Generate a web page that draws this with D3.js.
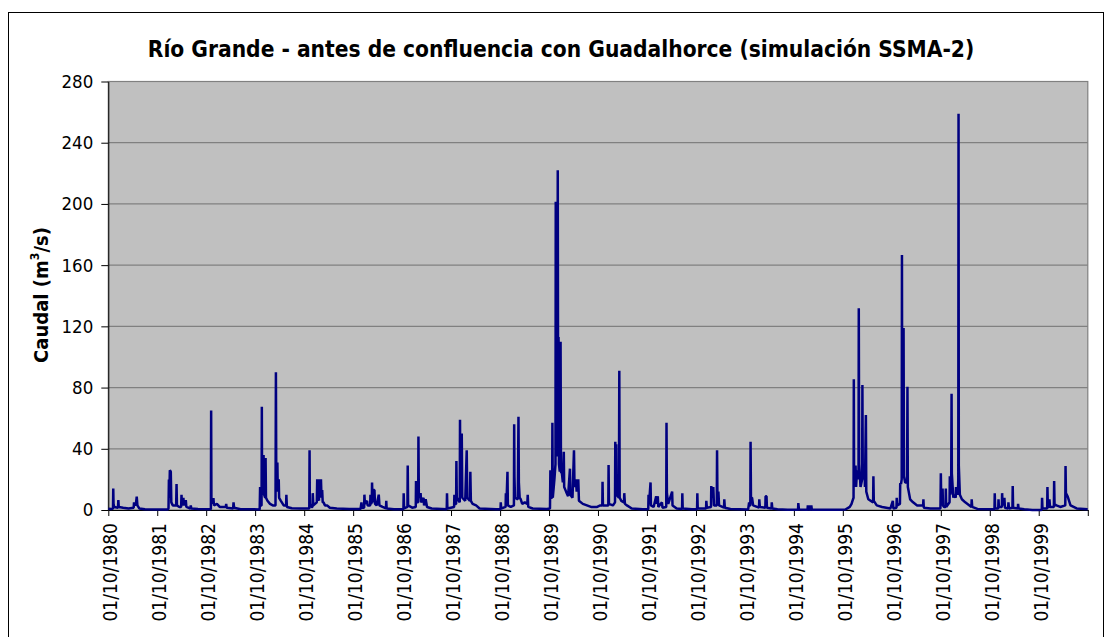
<!DOCTYPE html>
<html><head><meta charset="utf-8">
<script src="https://cdn.jsdelivr.net/npm/d3@7"></script>
<style>body{margin:0;background:#fff}svg{display:block}</style>
</head><body>
<svg id="c" width="1108" height="637"></svg>
<script>
const chartTitle = "Río Grande - antes de confluencia con Guadalhorce (simulación SSMA-2)";
const yTitleMain = "Caudal (m";
const yTitleSup = "3";
const yTitleEnd = "/s)";
const yTicks = [0, 40, 80, 120, 160, 200, 240, 280];
const tickYears = d3.range(1980, 2001);
const labelYears = d3.range(1980, 2000);

// daily flow (m3/s): [date, value]
const flowPoints = [
["1980-10-01",0.8],["1980-10-20",0.6],["1980-11-05",1],["1980-11-07",14],["1980-11-09",4],["1980-11-14",2],["1980-12-12",1.5],["1980-12-15",6.5],["1980-12-18",2],["1981-01-20",1.5],["1981-03-01",1],["1981-04-08",1.5],["1981-04-11",5],["1981-04-18",3],["1981-04-25",4],["1981-05-01",8.7],["1981-05-06",3],["1981-05-20",1],["1981-07-01",0.5],["1981-09-30",0.3],
["1981-12-20",0.4],["1981-12-24",1],["1981-12-27",20],["1981-12-30",8],["1982-01-03",26],["1982-01-10",25],["1982-01-14",5],["1982-01-25",3],["1982-02-19",3],["1982-02-22",17],["1982-02-25",3],["1982-03-15",2],["1982-03-28",2],["1982-03-31",10],["1982-04-03",3],["1982-04-14",8],["1982-04-18",3],["1982-05-02",6.5],["1982-05-06",2],["1982-06-05",1],["1982-06-08",3],["1982-06-12",1],["1982-08-01",0.7],["1982-11-05",0.5],
["1982-11-07",65],["1982-11-09",8],["1982-11-17",4],["1982-11-24",7.8],["1982-11-28",3],["1982-12-20",4],["1983-01-10",2],["1983-02-25",2],["1983-02-27",4],["1983-03-03",1.5],["1983-04-20",1],["1983-04-23",5],["1983-04-27",1.5],["1983-06-15",0.5],["1983-11-04",0.4],
["1983-11-07",15],["1983-11-10",3],["1983-11-18",3],["1983-11-20",67.5],["1983-11-22",10],["1983-11-30",12],["1983-12-03",36],["1983-12-07",10],["1983-12-15",8],["1983-12-18",34],["1983-12-21",8],["1984-01-01",6],["1984-01-20",4],["1984-02-10",3],["1984-03-01",3],["1984-03-04",90],["1984-03-07",15],["1984-03-15",31],["1984-03-18",12],["1984-03-25",20],["1984-03-28",8],["1984-04-10",6],["1984-05-01",3],["1984-05-19",3],["1984-05-21",10],["1984-05-25",2],["1984-07-01",1.2],["1984-09-01",1],["1984-11-08",1],
["1984-11-10",39],["1984-11-12",4],["1984-11-25",2],["1984-12-02",2],["1984-12-04",11],["1984-12-08",3],["1985-01-03",5],["1985-01-06",20],["1985-01-10",6],["1985-01-16",12],["1985-01-19",6],["1985-01-23",20],["1985-01-27",8],["1985-02-03",20],["1985-02-07",8],["1985-02-12",13],["1985-02-16",5],["1985-02-22",5],["1985-03-05",3],["1985-03-21",3],["1985-04-10",1.5],["1985-06-01",1],["1985-09-01",0.7],["1985-11-25",0.6],
["1985-12-02",5],["1985-12-06",1.5],["1985-12-22",1.5],["1985-12-24",10],["1985-12-28",4],["1986-01-13",6],["1986-01-17",3],["1986-02-05",3],["1986-02-07",10],["1986-02-11",4],["1986-02-17",5],["1986-02-19",18],["1986-02-23",5],["1986-03-01",13],["1986-03-09",13],["1986-03-13",4],["1986-03-25",3],["1986-04-10",10],["1986-04-15",3],["1986-05-08",2],["1986-06-03",1],["1986-06-05",6],["1986-06-08",1],["1986-08-01",0.5],["1986-10-11",0.5],
["1986-10-13",11],["1986-10-16",1],["1986-11-10",2],["1986-11-12",29],["1986-11-15",3],["1986-12-15",1.5],["1987-01-11",2],["1987-01-13",19],["1987-01-16",5],["1987-01-29",5],["1987-01-31",48],["1987-02-03",8],["1987-02-16",11],["1987-02-20",5],["1987-03-10",8],["1987-03-14",3],["1987-03-26",7],["1987-04-05",2],["1987-05-10",1],["1987-08-30",0.5],
["1987-09-01",11],["1987-09-04",1],["1987-10-24",2],["1987-10-26",10],["1987-10-30",4],["1987-11-08",4],["1987-11-10",32],["1987-11-13",8],["1987-12-05",5],["1987-12-07",59],["1987-12-10",10],["1987-12-17",10],["1987-12-20",50],["1987-12-24",8],["1988-01-15",6],["1988-01-26",39],["1988-01-30",8],["1988-02-19",6],["1988-02-22",25],["1988-02-26",6],["1988-03-10",4],["1988-04-05",3],["1988-05-01",1],["1988-09-01",0.5],
["1988-10-04",0.5],["1988-10-06",5],["1988-10-09",1],["1988-11-11",2],["1988-11-13",11],["1988-11-17",3],["1988-11-25",25],["1988-11-28",3],["1988-12-20",2],["1989-01-12",3],["1989-01-14",56],["1989-01-16",22],["1989-01-20",8],["1989-02-10",7],["1989-02-15",61],["1989-02-18",18],["1989-02-24",8],["1989-03-04",7],["1989-03-15",4],["1989-04-03",5],["1989-04-22",4],["1989-04-25",10],["1989-04-29",2],["1989-06-01",1],["1989-09-15",0.7],
["1989-10-08",1],["1989-10-11",26],["1989-10-16",8],["1989-10-24",8],["1989-10-26",57],["1989-10-29",8],["1989-11-10",20],["1989-11-18",30],["1989-11-20",201.5],["1989-11-23",40],["1989-11-27",60],["1989-12-02",35],["1989-12-05",222],["1989-12-08",40],["1989-12-11",113],["1989-12-14",30],["1989-12-20",25],["1989-12-26",110],["1989-12-29",25],["1990-01-05",24],["1990-01-12",18],["1990-01-19",38],["1990-01-22",15],["1990-02-05",12],["1990-02-20",9],["1990-03-06",27],["1990-03-09",10],["1990-03-25",8],["1990-04-05",39],["1990-04-09",15],["1990-04-20",20],["1990-04-25",12],["1990-05-07",20],["1990-05-12",6],["1990-06-10",4],["1990-08-10",2],["1990-09-25",2],
["1990-10-18",3],["1990-11-02",3],["1990-11-04",18.5],["1990-11-07",3],["1990-12-17",3],["1990-12-19",29.4],["1990-12-22",4],["1991-01-20",3],["1991-02-05",5],["1991-02-07",44.6],["1991-02-11",12],["1991-02-14",43],["1991-02-17",10],["1991-03-06",8],["1991-03-09",91],["1991-03-12",8],["1991-03-24",6],["1991-04-13",5],["1991-04-15",11],["1991-04-20",4],["1991-05-05",3],["1991-06-10",1],["1991-09-01",0.5],
["1991-10-11",0.5],["1991-10-13",10],["1991-10-17",4],["1991-10-28",18],["1991-10-31",3],["1991-11-20",2],["1991-12-09",9],["1991-12-13",4],["1991-12-21",9],["1991-12-25",2],["1992-01-21",5],["1992-01-25",1.5],["1992-02-22",2],["1992-02-24",57],["1992-02-27",11],["1992-03-08",4],["1992-04-06",12],["1992-04-09",3],["1992-05-10",1],["1992-06-19",0.7],["1992-06-21",11],["1992-06-24",1],["1992-09-01",0.5],
["1992-10-09",0.5],["1992-10-11",11],["1992-10-14",1],["1992-12-15",1],["1992-12-17",6],["1992-12-21",1.5],["1993-01-21",2],["1993-01-23",15.7],["1993-01-28",8],["1993-02-07",15],["1993-02-12",3],["1993-03-05",3],["1993-03-07",39],["1993-03-10",8],["1993-03-17",12],["1993-03-22",3],["1993-04-28",1.5],["1993-04-30",7],["1993-05-04",1.5],["1993-06-15",0.6],["1993-10-25",0.4],
["1993-11-01",5],["1993-11-05",3],["1993-11-10",3],["1993-11-12",44.6],["1993-11-15",8],["1993-11-23",8],["1993-12-01",3],["1994-01-14",1.5],["1994-01-16",7],["1994-01-20",2],["1994-03-02",1.5],["1994-03-04",9],["1994-03-11",9],["1994-03-14",1.5],["1994-04-17",1],["1994-04-19",5],["1994-04-23",1],["1994-06-01",0.5],["1994-08-15",0.1],
["1994-11-01",0.1],["1994-11-03",4.5],["1994-11-08",0.3],["1995-01-11",0.2],["1995-01-13",3],["1995-01-17",0.3],["1995-01-26",0.2],["1995-01-28",3],["1995-02-01",0.2],["1995-02-06",0.2],["1995-02-08",3],["1995-02-12",0.2],["1995-09-01",0.1],
["1995-10-20",0.3],["1995-11-22",2],["1995-12-05",4],["1995-12-12",6],["1995-12-20",8],["1995-12-22",85.4],["1995-12-24",20],["1996-01-04",29],["1996-01-08",15],["1996-01-15",26],["1996-01-26",20],["1996-01-28",131.8],["1996-01-31",30],["1996-02-10",15],["1996-02-22",20],["1996-02-24",81.7],["1996-02-27",20],["1996-03-10",30],["1996-03-14",15],["1996-03-21",62],["1996-03-24",12],["1996-04-08",7],["1996-05-14",5],["1996-05-16",22],["1996-05-19",6],["1996-06-10",3],["1996-07-20",2],["1996-09-20",1],
["1996-10-08",6],["1996-10-12",1],["1996-11-04",1.5],["1996-11-06",8],["1996-11-10",3],["1996-11-30",4],["1996-12-02",17.4],["1996-12-08",17],["1996-12-13",20],["1996-12-15",166.6],["1996-12-17",30],["1996-12-24",22],["1996-12-27",119],["1996-12-30",22],["1997-01-08",18],["1997-01-22",18],["1997-01-25",80.6],["1997-01-28",15],["1997-02-14",7],["1997-03-08",5],["1997-04-07",3],["1997-05-22",3],["1997-05-24",7],["1997-05-27",1.5],["1997-07-15",1],["1997-09-28",1],
["1997-10-01",24],["1997-10-04",5],["1997-10-14",14],["1997-10-17",3],["1997-10-25",2],["1997-11-05",2],["1997-11-07",14],["1997-11-10",2],["1997-12-05",5],["1997-12-07",22],["1997-12-11",10],["1997-12-17",15],["1997-12-20",76],["1997-12-22",24],["1998-01-02",8],["1998-01-09",10],["1998-01-20",8],["1998-01-22",15],["1998-02-05",10],["1998-02-08",20],["1998-02-10",259],["1998-02-12",29],["1998-02-20",10],["1998-03-07",7],["1998-04-01",5],["1998-05-17",2],["1998-05-19",7],["1998-05-23",2],["1998-07-01",0.7],["1998-11-05",0.5],
["1998-11-07",11],["1998-11-10",1],["1998-12-03",1],["1998-12-05",7],["1998-12-08",2],["1998-12-30",2],["1999-01-01",11],["1999-01-05",3],["1999-01-18",8],["1999-01-22",1.5],["1999-02-15",1],["1999-02-17",5],["1999-02-21",1],["1999-03-19",1.5],["1999-03-21",15.7],["1999-03-24",1.5],["1999-04-28",1],["1999-04-30",4],["1999-05-04",1],["1999-06-15",0.5],["1999-08-15",0.05],["1999-10-20",0.05],
["1999-10-24",0.5],["1999-10-26",8],["1999-10-29",1],["1999-12-03",1],["1999-12-05",15],["1999-12-08",2],["1999-12-18",2],["1999-12-20",7],["1999-12-24",2],["2000-01-22",2],["2000-01-24",19],["2000-01-27",4],["2000-02-10",3],["2000-03-10",2],["2000-04-16",3],["2000-04-18",28.7],["2000-04-21",11],["2000-05-03",9],["2000-05-25",3],["2000-07-10",1],["2000-09-30",0.5]
];

const parse = d3.timeParse("%Y-%m-%d");
const series = flowPoints.map(([d, v]) => ({date: parse(d), v}));

const svg = d3.select("#c");
const FONT = "'DejaVu Sans Condensed', 'Liberation Sans', Arial, sans-serif";
const L = 108.3, R = 1087.8, T = 81.5, B = 510;

const x = d3.scaleTime().domain([new Date(1980, 9, 1), new Date(2000, 9, 1)]).range([L, R]);
const y = d3.scaleLinear().domain([0, 280]).range([B, T]);

// outer chart border
svg.append("rect").attr("x", 8.5).attr("y", 12.5).attr("width", 1095).attr("height", 640)
  .attr("fill", "#fff").attr("stroke", "#000").attr("stroke-width", 1);

// plot area
svg.append("rect").attr("x", L).attr("y", T).attr("width", R - L).attr("height", B - T)
  .attr("fill", "#c0c0c0").attr("stroke", "#808080").attr("stroke-width", 1.2);

// gridlines
svg.append("g").selectAll("line").data(yTicks.filter(v => v > 0)).join("line")
  .attr("x1", L).attr("x2", R).attr("y1", d => y(d)).attr("y2", d => y(d))
  .attr("stroke", "#808080").attr("stroke-width", 1.2);

// y axis
const yAxis = svg.append("g").attr("transform", `translate(${L},0)`)
  .call(d3.axisLeft(y).tickValues(yTicks).tickSize(7).tickSizeOuter(0).tickPadding(8));
yAxis.select(".domain").attr("stroke", "#000");
yAxis.selectAll(".tick line").attr("stroke", "#000");
yAxis.selectAll("text").attr("font-family", FONT).attr("font-size", 18.5).attr("fill", "#000");

// x axis
const xAxis = svg.append("g").attr("transform", `translate(0,${B})`)
  .call(d3.axisBottom(x).tickValues(tickYears.map(yr => new Date(yr, 9, 1))).tickSize(6).tickSizeOuter(0)
    .tickFormat(d => labelYears.includes(d.getFullYear()) ? "01/10/" + d.getFullYear() : ""));
xAxis.select(".domain").attr("stroke", "#000");
xAxis.selectAll(".tick line").attr("stroke", "#000");
xAxis.selectAll("text")
  .attr("font-family", FONT).attr("font-size", 19).attr("fill", "#000")
  .attr("transform", "rotate(-90)")
  .attr("x", -13).attr("y", 2).attr("dy", "0.35em")
  .style("text-anchor", "end");

// series line
const line = d3.line().x(d => x(d.date)).y(d => y(d.v));
svg.append("path").datum(series).attr("d", line)
  .attr("fill", "none").attr("stroke", "#000080").attr("stroke-width", 2.5)
  .attr("stroke-linejoin", "bevel");

// title
const t = svg.append("text").attr("x", 561).attr("y", 57).attr("text-anchor", "middle")
  .attr("font-family", FONT).attr("font-weight", "bold").attr("font-size", 18).text(chartTitle);
const tw = t.node().getComputedTextLength();
t.attr("font-size", 18 * 827 / tw);

// y title
const yt = svg.append("text").attr("transform", "translate(48,295) rotate(-90)")
  .attr("text-anchor", "middle").attr("font-family", FONT).attr("font-weight", "bold")
  .attr("font-size", 18);
yt.append("tspan").text(yTitleMain);
yt.append("tspan").attr("font-size", 11).attr("dy", -8).text(yTitleSup);
yt.append("tspan").attr("dy", 8).text(yTitleEnd);
const yw = yt.node().getComputedTextLength();
const f = 136 / yw;
yt.attr("font-size", 18 * f);
yt.selectAll("tspan").filter((d, i) => i === 1).attr("font-size", 11 * f).attr("dy", -8 * f);
yt.selectAll("tspan").filter((d, i) => i === 2).attr("dy", 8 * f);
</script>
</body></html>
